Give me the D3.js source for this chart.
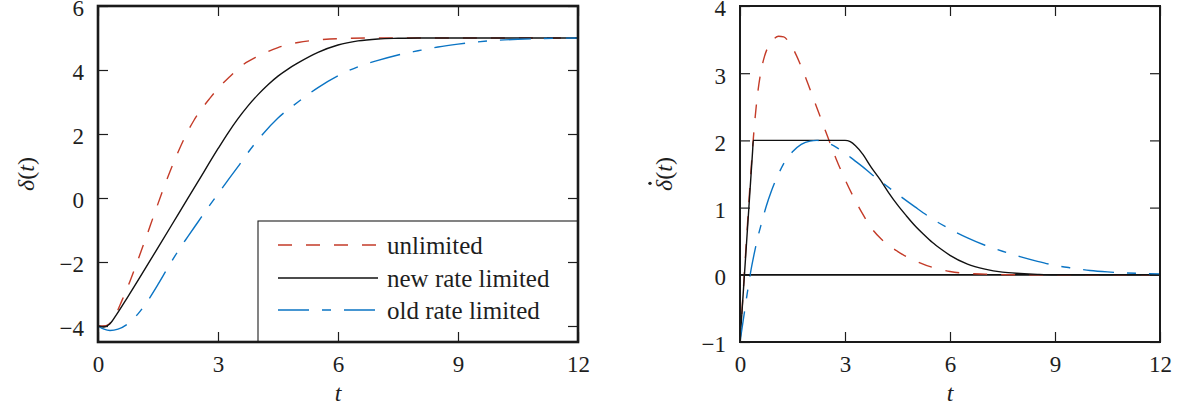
<!DOCTYPE html>
<html>
<head>
<meta charset="utf-8">
<script src="https://cdn.jsdelivr.net/npm/d3@7"></script>
<style>
  body { margin: 0; background: #fff; }
  svg { display: block; }
</style>
</head>
<body>
<svg id="chart" width="1181" height="412"></svg>
<script>
// ---- steering angle delta(t) ----
const unlimitedT     = [0, 0.2, 0.4, 0.6, 0.8, 1.0, 1.2, 1.4, 1.6, 1.8, 2.0, 2.2, 2.4, 2.6, 2.8, 3.0, 3.3, 3.6, 4.0, 4.5, 5.0, 5.5, 6.0, 7.0, 8.0, 10, 12];
const unlimitedDelta = [-4, -3.99, -3.74, -3.2, -2.6, -1.93, -1.24, -0.53, 0.17, 0.83, 1.43, 1.97, 2.43, 2.8, 3.12, 3.42, 3.8, 4.14, 4.43, 4.7, 4.86, 4.94, 4.98, 5.0, 5.0, 5.0, 5.0];

const newT     = [0, 0.15, 0.3, 0.45, 0.75, 1.5, 2.0, 2.5, 3.0, 3.25, 3.5, 3.75, 4.0, 4.25, 4.5, 4.75, 5.0, 5.5, 6.0, 6.5, 7.0, 7.5, 8.0, 10, 12];
const newDelta = [-4, -4.03, -3.93, -3.67, -3.08, -1.55, -0.52, 0.51, 1.54, 2.03, 2.48, 2.88, 3.23, 3.54, 3.81, 4.03, 4.22, 4.55, 4.78, 4.91, 4.97, 4.99, 5.0, 5.0, 5.0];

const oldT     = [0, 0.15, 0.3, 0.5, 0.75, 1.0, 1.25, 1.5, 1.75, 2.0, 2.25, 2.5, 2.75, 3.0, 3.25, 3.5, 3.75, 4.0, 4.5, 5.0, 5.5, 6.0, 6.5, 7.0, 7.5, 8.0, 8.5, 9.0, 9.5, 10, 10.5, 11, 12];
const oldDelta = [-4, -4.1, -4.14, -4.1, -3.93, -3.62, -3.2, -2.7, -2.17, -1.66, -1.2, -0.75, -0.3, 0.13, 0.56, 0.98, 1.42, 1.82, 2.5, 3.0, 3.45, 3.82, 4.1, 4.3, 4.47, 4.6, 4.72, 4.81, 4.88, 4.93, 4.96, 4.98, 5.0];

// ---- steering rate d/dt delta(t) ----
const unlimitedRateT = [0, 0.1, 0.2, 0.3, 0.4, 0.5, 0.6, 0.7, 0.8, 0.95, 1.1, 1.25, 1.4, 1.55, 1.7, 1.85, 2.0, 2.25, 2.5, 2.75, 3.0, 3.25, 3.5, 3.75, 4.0, 4.25, 4.5, 4.75, 5.0, 5.5, 6.0, 6.5, 7.0, 8.0, 9, 10, 11, 12];
const unlimitedRate  = [-1, -0.18, 0.64, 1.45, 2.15, 2.68, 3.03, 3.25, 3.39, 3.5, 3.55, 3.54, 3.46, 3.33, 3.16, 2.97, 2.76, 2.41, 2.06, 1.72, 1.42, 1.15, 0.91, 0.7, 0.55, 0.44, 0.35, 0.27, 0.21, 0.11, 0.05, 0.02, 0.01, 0, 0, 0, 0, 0];

const newRateT = [0, 0.19, 0.36, 0.38, 3.0, 3.15, 3.3, 3.5, 3.75, 4.0, 4.25, 4.5, 4.75, 5.0, 5.25, 5.5, 5.75, 6.0, 6.5, 7.0, 7.5, 8.0, 8.5, 9, 10, 12];
const newRate  = [-1, 0.5, 1.84, 2, 2, 1.98, 1.92, 1.8, 1.6, 1.42, 1.22, 1.04, 0.88, 0.73, 0.6, 0.48, 0.38, 0.29, 0.16, 0.085, 0.04, 0.02, 0.007, 0, 0, 0];

const oldRateT = [0, 0.1, 0.2, 0.3, 0.4, 0.5, 0.6, 0.75, 0.9, 1.1, 1.3, 1.5, 1.75, 2.0, 2.2, 2.4, 2.6, 2.8, 3.0, 3.25, 3.5, 3.75, 4.0, 4.5, 5.0, 5.5, 6.0, 6.5, 7.0, 7.5, 8, 8.5, 9, 9.5, 10, 10.5, 11, 11.5, 12];
const oldRate  = [-1, -0.65, -0.3, 0.03, 0.3, 0.54, 0.74, 1.02, 1.25, 1.5, 1.7, 1.83, 1.94, 1.99, 2.0, 1.98, 1.94, 1.88, 1.81, 1.71, 1.61, 1.5, 1.4, 1.2, 1.01, 0.83, 0.68, 0.55, 0.44, 0.35, 0.27, 0.2, 0.14, 0.1, 0.065, 0.043, 0.028, 0.019, 0.012];

// ---- ticks and labels ----
const xTicks = [0, 3, 6, 9, 12];
const yTicksAngle = [-4, -2, 0, 2, 4, 6];
const yTicksRate = [-1, 0, 1, 2, 3, 4];
const seriesNames = ["unlimited", "new rate limited", "old rate limited"];

const FONT = "'Liberation Serif', 'DejaVu Serif', serif";
const INK = "#1e1e1e";

const styles = [
  { color: "#c43b28", dash: "14,14" },
  { color: "#111111", dash: null },
  { color: "#0a74c4", dash: "31,13,9,13" }
];

const svg = d3.select("#chart");
const TICK = 10;

function panel(opts) {
  const x = d3.scaleLinear().domain([0, 12]).range([opts.left, opts.right]);
  const y = d3.scaleLinear().domain(opts.yDomain).range([opts.bottom, opts.top]);
  const g = svg.append("g").attr("font-family", FONT);

  const clipId = "clip" + opts.id;
  svg.append("clipPath").attr("id", clipId).append("rect")
    .attr("x", opts.left).attr("y", opts.top)
    .attr("width", opts.right - opts.left).attr("height", opts.bottom - opts.top);

  const plot = g.append("g").attr("clip-path", `url(#${clipId})`);

  if (opts.zeroLine) {
    plot.append("line")
      .attr("x1", x(0)).attr("x2", x(12))
      .attr("y1", y(0)).attr("y2", y(0))
      .attr("stroke", "#111").attr("stroke-width", 1.8);
  }

  const line = d3.line().x(d => x(d[0])).y(d => y(d[1])).curve(d3.curveMonotoneX);
  opts.series.forEach((s, i) => {
    plot.append("path")
      .datum(d3.zip(s.t, s.v))
      .attr("d", line)
      .attr("fill", "none")
      .attr("stroke", styles[i].color)
      .attr("stroke-width", 1.4)
      .attr("stroke-dasharray", styles[i].dash);
  });

  if (opts.legend) opts.legend(g, x, y);

  // axes with inward ticks on all four sides
  const styleAxis = sel => {
    sel.attr("font-family", FONT).attr("font-size", 23);
    sel.select(".domain").remove();
    sel.selectAll("line").attr("stroke", INK).attr("stroke-width", 1.2);
    sel.selectAll("text").attr("fill", INK);
  };
  g.append("g").attr("transform", `translate(0,${opts.bottom})`)
    .call(d3.axisBottom(x).tickValues(xTicks).tickSize(-TICK).tickPadding(14).tickFormat(d3.format("d")))
    .call(styleAxis);
  g.append("g").attr("transform", `translate(0,${opts.top})`)
    .call(d3.axisTop(x).tickValues(xTicks).tickSize(-TICK).tickFormat(""))
    .call(styleAxis);
  g.append("g").attr("transform", `translate(${opts.left},0)`)
    .call(d3.axisLeft(y).tickValues(opts.yTicks).tickSize(-TICK).tickPadding(14).tickFormat(d3.format("d")))
    .call(styleAxis)
    .call(sel => sel.selectAll("text").attr("dy", "0.43em"));
  g.append("g").attr("transform", `translate(${opts.right},0)`)
    .call(d3.axisRight(y).tickValues(opts.yTicks).tickSize(-TICK).tickFormat(""))
    .call(styleAxis);

  g.append("rect")
    .attr("x", opts.left).attr("y", opts.top)
    .attr("width", opts.right - opts.left).attr("height", opts.bottom - opts.top)
    .attr("fill", "none").attr("stroke", "#1a1a1a").attr("stroke-width", opts.frameWidth);

  // axis titles
  g.append("text")
    .attr("x", (opts.left + opts.right) / 2).attr("y", 401)
    .attr("text-anchor", "middle").attr("font-size", 24).attr("fill", INK)
    .attr("font-style", "italic").text("t");

  const lg = g.append("g")
    .attr("transform", `translate(${opts.yLabelX},${(opts.top + opts.bottom) / 2}) rotate(-90)`);
  const yl = lg.append("text")
    .attr("text-anchor", "middle").attr("font-size", 24).attr("fill", INK);
  yl.append("tspan").attr("font-style", "italic").text("δ");
  yl.append("tspan").text("(");
  yl.append("tspan").attr("font-style", "italic").text("t");
  yl.append("tspan").text(")");

  if (opts.dotted) {
    // time-derivative dot over the delta
    const ext = yl.node().getExtentOfChar(0);
    lg.append("circle")
      .attr("cx", ext.x + ext.width * 0.68)
      .attr("cy", -22)
      .attr("r", 1.7)
      .attr("fill", INK);
  }
}

panel({
  id: "A", left: 98, right: 578, top: 6, bottom: 342,
  yDomain: [-4.5, 6], yTicks: yTicksAngle, frameWidth: 2.6,
  yLabelX: 34,
  series: [
    { t: unlimitedT, v: unlimitedDelta },
    { t: newT, v: newDelta },
    { t: oldT, v: oldDelta }
  ],
  legend: (g) => {
    const lx = 258, ly = 221, lw = 320, lh = 121;
    g.append("rect").attr("x", lx).attr("y", ly).attr("width", lw).attr("height", lh)
      .attr("fill", "#fff").attr("stroke", INK).attr("stroke-width", 1.1);
    const rows = [245, 278, 310];
    seriesNames.forEach((name, i) => {
      g.append("line")
        .attr("x1", 278).attr("x2", 378).attr("y1", rows[i]).attr("y2", rows[i])
        .attr("stroke", styles[i].color).attr("stroke-width", 1.4)
        .attr("stroke-dasharray", styles[i].dash);
      g.append("text").attr("x", 387).attr("y", rows[i] + 9)
        .attr("font-size", 25).attr("fill", INK).text(name);
    });
  }
});

panel({
  id: "B", left: 740, right: 1160, top: 6, bottom: 342,
  yDomain: [-1, 4], yTicks: yTicksRate, frameWidth: 2.0,
  yLabelX: 672, dotted: true, zeroLine: true,
  series: [
    { t: unlimitedRateT, v: unlimitedRate },
    { t: newRateT, v: newRate },
    { t: oldRateT, v: oldRate }
  ]
});
</script>
</body>
</html>
